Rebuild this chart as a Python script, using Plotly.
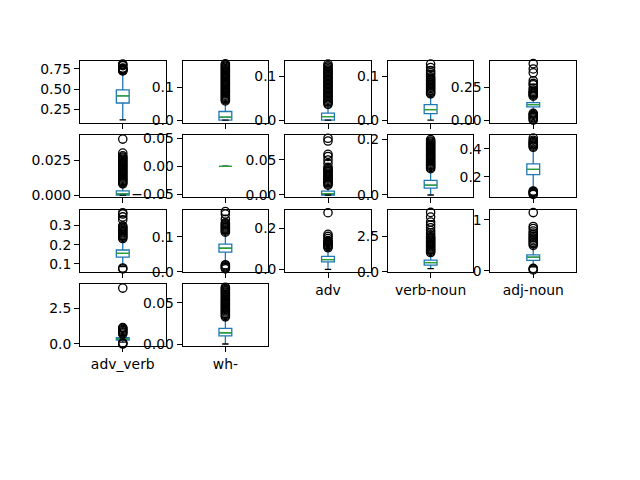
import plotly.graph_objects as go

# ---------------- data ----------------
names = ["ttr", "1-gram", "2-gram", "3-gram", "pos-ent",
         "mean_1", "mean_2", "mean_3", "mean_4", "ratio",
         "noun", "verb", "adv", "verb-noun", "adj-noun",
         "adv_verb", "wh-"]

q1 = [0.329, 0.0, 0.0, 0.0147, 0.102,
      0.0, 0.0, 0.0, 0.0246, 0.2166,
      0.135, 0.056, 0.036, 0.47, 0.208,
      0.28, 0.0098]
med = [0.418, 0.009, 0.008, 0.024, 0.119,
       0.0008, 0.0, 0.002, 0.036, 0.253,
       0.155, 0.067, 0.047, 0.64, 0.27,
       0.36, 0.0137]
q3 = [0.49, 0.026, 0.016, 0.0356, 0.134,
      0.003, 0.0, 0.0056, 0.0526, 0.292,
      0.172, 0.079, 0.063, 0.82, 0.315,
      0.45, 0.0189]
lo_fence = [0.12, 0.0, 0.0, 0.0, 0.055,
            0.0, 0.0, 0.0, 0.0, 0.105,
            0.085, 0.024, 0.0, 0.22, 0.08,
            0.13, 0.0]
hi_fence = [0.69, 0.055, 0.034, 0.058, 0.18,
            0.0073, 0.0, 0.013, 0.094, 0.405,
            0.226, 0.11, 0.1, 1.3, 0.47,
            0.6, 0.032]

outliers = [
    [0.725, 0.73, 0.735, 0.74, 0.745, 0.75, 0.755, 0.76, 0.79, 0.80, 0.81],
    [0.058, 0.0615, 0.065, 0.0685, 0.072, 0.0755, 0.079, 0.0825, 0.086, 0.0895,
     0.093, 0.0965, 0.1, 0.1035, 0.107, 0.1105, 0.114, 0.1175, 0.121, 0.1245,
     0.128, 0.1315, 0.135, 0.1385, 0.142, 0.1455, 0.149, 0.1525, 0.156, 0.1595,
     0.163, 0.1665, 0.17],
    [0.036, 0.039, 0.042, 0.045, 0.048, 0.051, 0.054, 0.057, 0.06, 0.063,
     0.066, 0.069, 0.072, 0.075, 0.078, 0.081, 0.084, 0.087, 0.09, 0.093,
     0.096, 0.099, 0.102, 0.105, 0.108, 0.111, 0.114, 0.117, 0.121, 0.124,
     0.128],
    [0.06, 0.063, 0.066, 0.069, 0.072, 0.075, 0.078, 0.081, 0.084, 0.087,
     0.09, 0.093, 0.096, 0.099, 0.104, 0.108, 0.113, 0.12, 0.128],
    [0.183, 0.19, 0.197, 0.205, 0.212, 0.22, 0.23, 0.245, 0.27, 0.28,
     0.30, 0.36, 0.39, 0.43,
     0.0, 0.009, 0.018, 0.027, 0.036, 0.045, 0.052],
    [0.008, 0.0088, 0.0096, 0.0104, 0.0112, 0.012, 0.0128, 0.0136, 0.0144,
     0.0152, 0.016, 0.0168, 0.0176, 0.0184, 0.0192, 0.02, 0.0208, 0.0216,
     0.0224, 0.0232, 0.024, 0.0248, 0.0256, 0.0264, 0.0272, 0.028, 0.030,
     0.040],
    [],
    [0.014, 0.0157, 0.0174, 0.0191, 0.0208, 0.0225, 0.0242, 0.0259, 0.0276,
     0.0293, 0.031, 0.0327, 0.0344, 0.0361, 0.0378, 0.0395, 0.045, 0.05,
     0.055, 0.058, 0.077, 0.081],
    [0.095, 0.099, 0.103, 0.107, 0.111, 0.115, 0.119, 0.123, 0.127, 0.131,
     0.135, 0.139, 0.143, 0.147, 0.151, 0.155, 0.159, 0.163, 0.167, 0.171,
     0.175, 0.179, 0.183, 0.187, 0.191, 0.195, 0.2],
    [0.41, 0.418, 0.426, 0.434, 0.442, 0.45, 0.46, 0.475,
     0.075, 0.082, 0.089, 0.095, 0.1],
    [0.232, 0.238, 0.244, 0.25, 0.256, 0.262, 0.268, 0.274, 0.28, 0.286,
     0.292, 0.298, 0.33, 0.345, 0.36, 0.367, 0.073, 0.078],
    [0.113, 0.116, 0.119, 0.122, 0.125, 0.128, 0.131, 0.134, 0.137, 0.14,
     0.15, 0.165, 0.172, 0.008, 0.011, 0.014, 0.017, 0.02],
    [0.105, 0.11, 0.115, 0.12, 0.125, 0.13, 0.135, 0.14, 0.15, 0.16,
     0.17, 0.275],
    [1.35, 1.43, 1.51, 1.59, 1.67, 1.75, 1.83, 1.91, 1.99, 2.07, 2.15, 2.23,
     2.31, 2.39, 2.47, 2.6, 2.75, 2.9, 3.1, 3.3, 3.5, 3.85, 4.18],
    [0.5, 0.53, 0.56, 0.59, 0.62, 0.65, 0.68, 0.71, 0.74, 0.78, 0.83,
     0.87, 1.14, 0.02, 0.04, 0.05],
    [0.0, 0.04, 0.08, 0.7, 0.78, 0.86, 0.94, 1.02, 1.1, 1.15, 3.92],
    [0.033, 0.0345, 0.036, 0.0375, 0.039, 0.0405, 0.042, 0.0435, 0.045,
     0.0465, 0.048, 0.0495, 0.051, 0.0525, 0.054, 0.0555, 0.057, 0.0585,
     0.06, 0.0615, 0.063, 0.0645, 0.066, 0.0675, 0.069],
]

y_ranges = [
    [0.082, 0.847], [-0.0088, 0.1785], [-0.0067, 0.135], [-0.0067, 0.135], [-0.0215, 0.45],
    [-0.0017, 0.0426], [-0.0556, 0.0556], [-0.0035, 0.085], [-0.0088, 0.215], [0.054, 0.494],
    [0.058, 0.382], [-0.0005, 0.177], [-0.012, 0.289], [-0.01, 4.36], [-0.017, 1.194],
    [-0.157, 4.19], [-0.0027, 0.0726],
]
tick_vals = [
    [0.25, 0.5, 0.75], [0.0, 0.1], [0.0, 0.1], [0.0, 0.1], [0.0, 0.25],
    [0.0, 0.025], [-0.05, 0.0, 0.05], [0.0, 0.05], [0.0, 0.2], [0.2, 0.4],
    [0.1, 0.2, 0.3], [0.0, 0.1], [0.0, 0.2], [0.0, 2.5], [0, 1],
    [0.0, 2.5], [0.0, 0.05],
]
tick_text = [
    ["0.25", "0.50", "0.75"], ["0.0", "0.1"], ["0.0", "0.1"], ["0.0", "0.1"], ["0.00", "0.25"],
    ["0.000", "0.025"], ["\u22120.05", "0.00", "0.05"], ["0.00", "0.05"], ["0.0", "0.2"], ["0.2", "0.4"],
    ["0.1", "0.2", "0.3"], ["0.0", "0.1"], ["0.0", "0.2"], ["0.0", "2.5"], ["0", "1"],
    ["0.0", "2.5"], ["0.00", "0.05"],
]

# ---------------- layout geometry (matplotlib 5x5 grid) ----------------
W, H = 640, 480
NCOLS, NROWS = 5, 5
left, right, top, bottom = 0.125 * W, 0.9 * W, 0.12 * H, 0.89 * H
aw = (right - left) / (NCOLS + 0.2 * (NCOLS - 1))
ah = (bottom - top) / (NROWS + 0.2 * (NROWS - 1))
gx, gy = 0.2 * aw, 0.2 * ah

BLUE = "#1f77b4"
GREEN = "#2ca02c"
FONT = dict(family="DejaVu Sans", size=13.9, color="black")
BOX_W = 0.15

fig = go.Figure()
layout = {}
n = len(names)
for i in range(n):
    r, c = divmod(i, NCOLS)
    k = "" if i == 0 else str(i + 1)
    xa, ya = "x" + k, "y" + k
    x0 = left + c * (aw + gx)
    y0 = top + r * (ah + gy)
    show_label = i + NCOLS >= n

    fig.add_trace(go.Box(
        x=[0], q1=[q1[i]], median=[med[i]], q3=[q3[i]],
        lowerfence=[lo_fence[i]], upperfence=[hi_fence[i]],
        width=BOX_W, boxpoints=False, whiskerwidth=0,
        line=dict(color=BLUE, width=1.3), fillcolor="rgba(0,0,0,0)",
        xaxis=xa, yaxis=ya, hoverinfo="skip", showlegend=False))
    # caps
    for f in (lo_fence[i], hi_fence[i]):
        fig.add_trace(go.Scatter(
            x=[-BOX_W / 4, BOX_W / 4], y=[f, f], mode="lines",
            line=dict(color="black", width=1.3),
            xaxis=xa, yaxis=ya, hoverinfo="skip", showlegend=False))
    # median
    fig.add_trace(go.Scatter(
        x=[-BOX_W / 2, BOX_W / 2], y=[med[i], med[i]], mode="lines",
        line=dict(color=GREEN, width=1.3),
        xaxis=xa, yaxis=ya, hoverinfo="skip", showlegend=False))
    # fliers
    if outliers[i]:
        fig.add_trace(go.Scatter(
            x=[0] * len(outliers[i]), y=outliers[i], mode="markers",
            marker=dict(symbol="circle-open", size=8.3, color="black",
                        line=dict(width=1.3, color="black")),
            xaxis=xa, yaxis=ya, hoverinfo="skip", showlegend=False,
            cliponaxis=False))

    axname = "xaxis" + k
    ayname = "yaxis" + k
    layout[axname] = dict(
        domain=[x0 / W, (x0 + aw) / W], anchor=ya, range=[-0.5, 0.5],
        tickvals=[0], ticktext=[names[i]] if show_label else [""],
        showticklabels=show_label, ticks="outside", ticklen=5, tickwidth=1,
        tickcolor="black", showline=True, mirror=True, linecolor="black",
        linewidth=1, showgrid=False, zeroline=False, fixedrange=True,
        tickfont=FONT)
    layout[ayname] = dict(
        domain=[1 - (y0 + ah) / H, 1 - y0 / H], anchor=xa, range=y_ranges[i],
        tickvals=tick_vals[i], ticktext=tick_text[i], ticks="outside",
        ticklen=5, tickwidth=1, tickcolor="black", showline=True, mirror=True,
        linecolor="black", linewidth=1, showgrid=False, zeroline=False,
        fixedrange=True, tickfont=FONT)

fig.update_layout(
    width=W, height=H, margin=dict(l=0, r=0, t=0, b=0),
    paper_bgcolor="white", plot_bgcolor="white", showlegend=False,
    font=FONT, **layout)

fig.write_html("out.html")
